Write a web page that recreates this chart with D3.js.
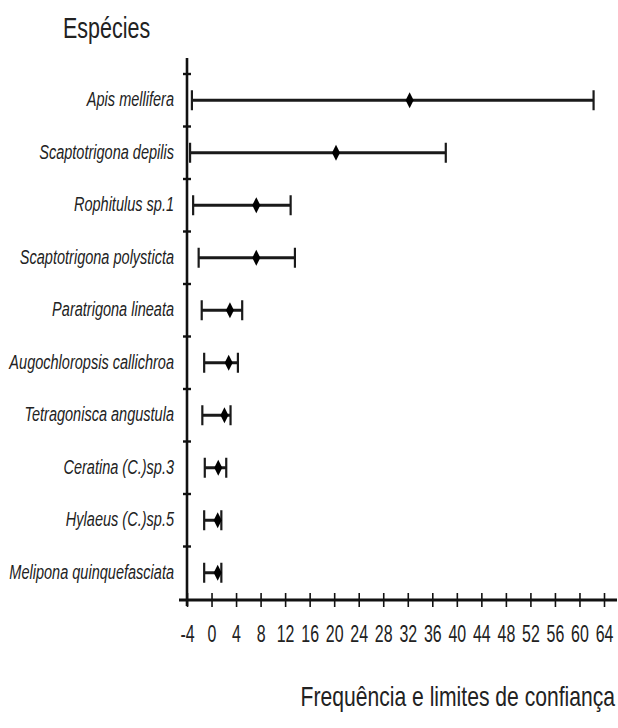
<!DOCTYPE html>
<html>
<head>
<meta charset="utf-8">
<script src="https://cdn.jsdelivr.net/npm/d3@7"></script>
<style>
  html, body { margin: 0; padding: 0; background: #fff; }
  svg { display: block; }
</style>
</head>
<body>
<script>
// ---- data ----
const species = [
  "Apis mellifera",
  "Scaptotrigona depilis",
  "Rophitulus sp.1",
  "Scaptotrigona polysticta",
  "Paratrigona lineata",
  "Augochloropsis callichroa",
  "Tetragonisca angustula",
  "Ceratina (C.)sp.3",
  "Hylaeus (C.)sp.5",
  "Melipona quinquefasciata"
];
const frequency = [32.3, 20.3, 7.3, 7.3, 3.0, 2.8, 2.1, 1.1, 1.0, 1.0];
const lowerLimit = [-3.2, -3.5, -3.0, -2.1, -1.6, -1.2, -1.5, -1.1, -1.2, -1.2];
const upperLimit = [62.3, 38.2, 12.9, 13.6, 5.0, 4.3, 3.1, 2.4, 1.6, 1.6];
const xTickValues = [-4, 0, 4, 8, 12, 16, 20, 24, 28, 32, 36, 40, 44, 48, 52, 56, 60, 64];
const yTitle = "Espécies";
const xTitle = "Frequência e limites de confiança";

const rows = species.map((s, i) => ({ s, f: frequency[i], lo: lowerLimit[i], hi: upperLimit[i] }));

// ---- layout ----
const W = 618, H = 728;
const FONT = "'Liberation Sans', Arial, Helvetica, sans-serif";

const svg = d3.select("body").append("svg").attr("width", W).attr("height", H);
svg.append("rect").attr("width", W).attr("height", H).attr("fill", "#fff");

const x = d3.scaleLinear().domain([-4, 64]).range([187, 604]);
const y = d3.scaleBand().domain(species).range([74, 599]).padding(0);
const bw = y.bandwidth();
const axisY = 600;

// x axis
const gx = svg.append("g").attr("transform", `translate(0,${axisY})`)
  .call(d3.axisBottom(x).tickValues(xTickValues).tickSize(7).tickSizeOuter(0)
    .tickFormat(d => String(d)));
gx.select(".domain").remove();
gx.selectAll(".tick line").attr("y1", -7).attr("stroke", "#111").attr("stroke-width", 1.6);
gx.selectAll(".tick text").each(function(d) {
  d3.select(this)
   .attr("y", null).attr("dy", null)
   .attr("transform", `translate(0,42) scale(0.84,1.26)`)
   .attr("font-family", FONT).attr("font-size", 19).attr("fill", "#222")
   .attr("text-anchor", "middle");
});
svg.append("line").attr("x1", 179).attr("x2", 617).attr("y1", axisY).attr("y2", axisY)
  .attr("stroke", "#111").attr("stroke-width", 3);

// y axis
svg.append("line").attr("x1", x(-4)).attr("x2", x(-4)).attr("y1", 58).attr("y2", axisY + 6)
  .attr("stroke", "#111").attr("stroke-width", 2.6);
svg.append("g").selectAll("line").data(species).join("line")
  .attr("x1", x(-4) - 4).attr("x2", x(-4) + 4)
  .attr("y1", d => y(d)).attr("y2", d => y(d))
  .attr("stroke", "#111").attr("stroke-width", 2.4);

// category labels
svg.append("g").selectAll("text").data(species).join("text")
  .attr("transform", d => `translate(174,${y(d) + bw / 2 + 6}) scale(0.83,1.2)`)
  .attr("text-anchor", "end")
  .attr("font-family", FONT).attr("font-style", "italic").attr("font-size", 17.5)
  .attr("fill", "#222")
  .text(d => d);

// error bars
const g = svg.append("g");
const cy = d => y(d.s) + bw / 2;
g.selectAll("line.bar").data(rows).join("line").attr("class", "bar")
  .attr("x1", d => x(d.lo)).attr("x2", d => x(d.hi))
  .attr("y1", cy).attr("y2", cy)
  .attr("stroke", "#1a1a1a").attr("stroke-width", 3);
g.selectAll("line.capL").data(rows).join("line").attr("class", "capL")
  .attr("x1", d => x(d.lo)).attr("x2", d => x(d.lo))
  .attr("y1", d => cy(d) - 10).attr("y2", d => cy(d) + 10)
  .attr("stroke", "#1a1a1a").attr("stroke-width", 2.2);
g.selectAll("line.capR").data(rows).join("line").attr("class", "capR")
  .attr("x1", d => x(d.hi)).attr("x2", d => x(d.hi))
  .attr("y1", d => cy(d) - 10).attr("y2", d => cy(d) + 10)
  .attr("stroke", "#1a1a1a").attr("stroke-width", 2.2);
g.selectAll("path.pt").data(rows).join("path").attr("class", "pt")
  .attr("d", d => {
    const px = x(d.f), py = cy(d);
    return `M${px},${py - 8}L${px + 4},${py}L${px},${py + 8}L${px - 4},${py}Z`;
  })
  .attr("fill", "#000");

// titles
svg.append("text")
  .attr("transform", `translate(63,38) scale(0.86,1.16)`)
  .attr("font-family", FONT).attr("font-size", 25).attr("fill", "#222")
  .text(yTitle);
svg.append("text")
  .attr("transform", `translate(615,706) scale(0.88,1.17)`)
  .attr("text-anchor", "end")
  .attr("font-family", FONT).attr("font-size", 24).attr("fill", "#222")
  .text(xTitle);
</script>
</body>
</html>
